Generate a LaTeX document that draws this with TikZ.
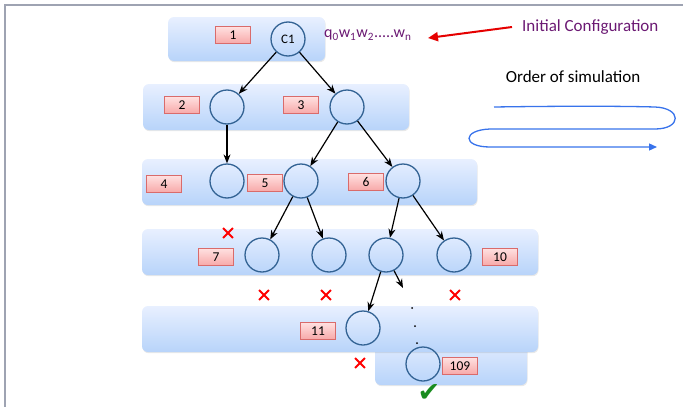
\documentclass[tikz,border=0pt]{standalone}
\usepackage{fontspec}
\setmainfont{Carlito}
\newfontfamily\symfont{DejaVu Sans}
\usetikzlibrary{arrows.meta,shadows,shapes.misc}

\definecolor{bandtop}{rgb}{0.91,0.94,1.00}
\definecolor{bandbot}{rgb}{0.72,0.83,0.98}
\definecolor{circline}{rgb}{0.20,0.39,0.58}
\definecolor{lbltop}{rgb}{1.00,0.88,0.88}
\definecolor{lblbot}{rgb}{0.97,0.66,0.66}
\definecolor{lblline}{rgb}{0.85,0.42,0.42}
\definecolor{config}{rgb}{0.42,0.10,0.45}
\definecolor{loopblue}{rgb}{0.22,0.45,0.92}
\definecolor{framegray}{rgb}{0.62,0.64,0.70}
\definecolor{okgreen}{rgb}{0.10,0.55,0.12}

\begin{document}
\begin{tikzpicture}[x=1pt,y=-1pt,
  band/.style={rounded corners=6pt, top color=bandtop, bottom color=bandbot,
    drop shadow={opacity=0.18, shadow xshift=0.6pt, shadow yshift=-1.2pt}},
  vertex/.style={circle, draw=circline, line width=1.3pt, minimum size=34pt, inner sep=0pt,
    font=\fontsize{13}{15}\selectfont},
  lbl/.style={rectangle, draw=lblline, line width=0.6pt, top color=lbltop, bottom color=lblbot,
    minimum width=35pt, minimum height=17pt, inner sep=0pt, font=\fontsize{13.5}{15}\selectfont,
    drop shadow={opacity=0.25, shadow xshift=0.8pt, shadow yshift=-0.8pt}},
  edge/.style={-{Stealth[length=9pt,width=7pt]}, line width=1.2pt},
  fail/.style={cross out, draw=red, line width=1.8pt, minimum size=8pt, inner sep=0pt},
]
\useasboundingbox (0,0) rectangle (683,407);

% slide frame
\draw[framegray, line width=1.2pt] (5,407) -- (5,5) -- (683,5);

% level bands (the last one sits behind the fifth)
\path[band] (168,17) rectangle (325,61);
\path[band] (143,84) rectangle (409,130);
\path[band] (142,159) rectangle (477,205);
\path[band] (142,229) rectangle (538,275);
\path[band] (375,335) rectangle (527,385);
\path[band] (142,306) rectangle (538,352);

% configurations
\node[vertex] (c1) at (288,39) {C1};
\node[vertex] (n2) at (227,107) {};
\node[vertex] (n3) at (347,107) {};
\node[vertex] (n4) at (227,181) {};
\node[vertex] (n5) at (301,181) {};
\node[vertex] (n6) at (403,181) {};
\node[vertex] (n7) at (262,255) {};
\node[vertex] (n8) at (329,255) {};
\node[vertex] (n9) at (386,255) {};
\node[vertex] (n10) at (454,255) {};
\node[vertex] (n11) at (363,328) {};
\node[vertex] (n109) at (423,364) {};

% step numbers
\node[lbl] (l1) at (233,35) {1};
\node[lbl] (l2) at (182,105) {2};
\node[lbl] (l3) at (301,105) {3};
\node[lbl] (l4) at (164,184) {4};
\node[lbl] (l5) at (265,183) {5};
\node[lbl] (l6) at (366,182) {6};
\node[lbl] (l7) at (216,257) {7};
\node[lbl] (l10) at (500,257) {10};
\node[lbl] (l11) at (318,331) {11};
\node[lbl] (l109) at (460,366) {109};

% transitions
\draw[edge] (c1) -- (n2);
\draw[edge] (c1) -- (n3);
\draw[edge] (n2) -- (n4);
\draw[edge] (n3) -- (n5);
\draw[edge] (n3) -- (n6);
\draw[edge] (n5) -- (n7);
\draw[edge] (n5) -- (n8);
\draw[edge] (n6) -- (n9);
\draw[edge] (n6) -- (n10);
\draw[edge] (n9) -- (n11);
\coordinate (more) at (403,288);
\draw[edge] (n9) -- (more);

% elided configurations
\fill (412,308) circle (1pt);
\fill (415,326) circle (1pt);
\fill (417,343) circle (1pt);

% rejecting branches
\node[fail] (x1) at (228,233) {};
\node[fail] (x2) at (264,295) {};
\node[fail] (x3) at (326,295) {};
\node[fail] (x4) at (455,295) {};
\node[fail] (x5) at (360,363) {};

% accepting configuration
\node[okgreen, font=\symfont\fontsize{27}{29}\selectfont] (ok) at (429,393) {✔};

% initial configuration
\node[config, anchor=west, inner sep=0pt, font=\fontsize{16}{18}\selectfont] (word) at (324,35)
  {q\textsubscript{0}w\textsubscript{1}w\textsubscript{2}.....w\textsubscript{n}};
\node[config, anchor=west, inner sep=0pt, font=\fontsize{17}{19}\selectfont] (init) at (522,27)
  {Initial Configuration};
\coordinate (tail) at (512,27);
\coordinate (head) at (428,38);
\draw[red!90!black, line width=2pt, -{Triangle[length=10pt,width=9pt]}] (tail) -- (head);

% traversal order
\node[font=\fontsize{17}{19}\selectfont] (order) at (573,77) {Order of simulation};
\draw[loopblue, line width=1.3pt, -{Triangle[length=8pt,width=7pt]}]
  (494,107) .. controls (560,106) and (620,106) .. (655,107)
  .. controls (682,108) and (682,129) .. (655,129)
  -- (490,129) .. controls (462,130) and (462,147) .. (490,147)
  -- (657,147);
\end{tikzpicture}
\end{document}
